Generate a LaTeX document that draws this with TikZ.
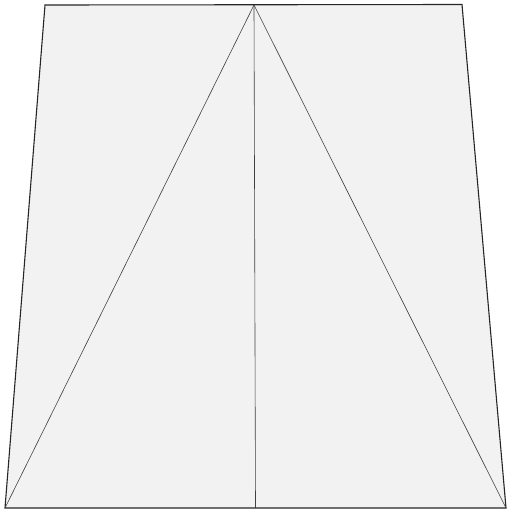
\documentclass[tikz,border=0pt]{standalone}
\begin{document}
\begin{tikzpicture}[x=1pt,y=-1pt,
  outer/.style={draw=black!85,line width=1.1pt,fill=black!5,line join=miter},
  inner/.style={draw=black!75,line width=0.6pt}]
\useasboundingbox (0,0) rectangle (512,512);
\coordinate (tl) at (45,5);
\coordinate (tr) at (462,4.5);
\coordinate (br) at (506,508);
\coordinate (bl) at (5,508);
\coordinate (apex) at (254,5);
\coordinate (bm) at (255.5,508);
\draw[outer] (tl) -- (tr) -- (br) -- (bl) -- cycle;
\draw[inner] (apex) -- (bl);
\draw[inner] (apex) -- (br);
\draw[inner] (apex) -- (bm);
\end{tikzpicture}
\end{document}
